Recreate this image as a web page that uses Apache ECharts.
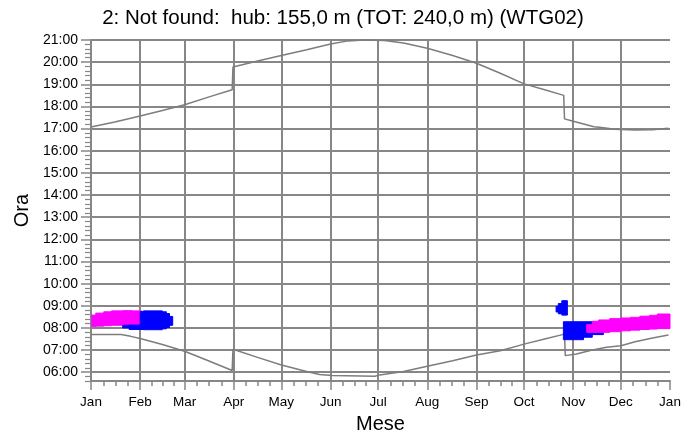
<!DOCTYPE html>
<html><head><meta charset="utf-8">
<script src="https://cdn.jsdelivr.net/npm/echarts@6/dist/echarts.min.js"></script>
<style>html,body{margin:0;padding:0;background:#fff}#c{width:699px;height:439px}</style>
</head><body><div id="c"></div>
<script>
// ---- Data ----
const monthLabels = ['Jan','Feb','Mar','Apr','May','Jun','Jul','Aug','Sep','Oct','Nov','Dec','Jan'];
const monthStarts = [0,31,59,90,120,151,181,212,243,273,304,334,365];
const hourTicks = [6,7,8,9,10,11,12,13,14,15,16,17,18,19,20,21];

// [day of year, hour]
const sunset = [[0,17.07],[15,17.3],[31,17.57],[45,17.82],[59,18.08],[74,18.42],[89,18.75],[89.5,19.78],[105,20.05],[120,20.3],[136,20.56],[151,20.82],[162,20.96],[172,21.0],[185,20.98],[197,20.86],[212,20.63],[228,20.3],[243,19.95],[258,19.5],[273,19.02],[286,18.75],[298,18.5],[298.5,17.44],[304,17.33],[310,17.22],[317,17.08],[322,17.05],[330,16.97],[343,16.94],[354,16.95],[364,17.02]];
const sunrise = [[0,7.7],[19,7.7],[25,7.62],[31,7.52],[45,7.25],[59,6.95],[74,6.52],[89,6.08],[89.5,7.04],[105,6.67],[120,6.33],[136,6.03],[144,5.9],[152,5.85],[179,5.82],[182,5.88],[197,6.03],[212,6.27],[228,6.52],[243,6.78],[258,6.97],[273,7.27],[286,7.5],[298.5,7.72],[299,6.75],[306,6.82],[316,7.0],[325,7.13],[334,7.2],[343,7.38],[354,7.55],[364,7.68]];

// [day start, day end, hour low, hour high]
const janMagenta = [[0.5,3,8.06,8.58],[3,8,8.08,8.67],[8,13,8.1,8.73],[13,20,8.12,8.77],[20,26,8.13,8.78],[26,32,8.14,8.77]];
const febBlue = [[20,24,8.0,8.12],[24,31,7.93,8.13],[31,33,7.93,8.74],[33,45,7.92,8.77],[45,47.5,7.96,8.73],[47.5,49.5,8.02,8.65],[49.5,51.5,8.12,8.52]];
const novBlue = [[293.2,294.6,8.72,8.98],[294.6,296.8,8.64,9.1],[296.8,300.3,8.58,9.23],[297.8,310.5,7.47,8.28],[310.5,316,7.58,8.28],[316,323,7.7,8.15]];
const decMagenta = [[312.5,316,7.8,8.15],[316,320,7.8,8.3],[320,327,7.8,8.36],[327,334,7.83,8.42],[334,340,7.87,8.45],[340,346,7.9,8.48],[346,352,7.93,8.53],[352,357,7.95,8.57],[357,365,7.97,8.63]];

// ---- Ticks derived from axis definitions ----
const minorX = [];
for (let m = 0; m < 12; m++) {
  const a = monthStarts[m], b = monthStarts[m + 1];
  for (let k = 1; k < 4; k++) minorX.push(a + k * (b - a) / 4);
}
const minorY = [];
for (let h = 5; h <= 20; h++) {
  for (let k = 1; k < 5; k++) {
    const v = +(h + k * 0.2).toFixed(2);
    if (v >= 5.6 && v <= 21) minorY.push(v);
  }
}

const GRID = '#878787';
const CURVE = '#7d7d7d';
const FONT = 'Liberation Sans, Arial, sans-serif';

function bandRender(color) {
  return function (params, api) {
    const p0 = api.coord([api.value(0), api.value(3)]);
    const p1 = api.coord([api.value(1), api.value(2)]);
    return {
      type: 'rect',
      shape: { x: p0[0], y: p0[1], width: p1[0] - p0[0], height: p1[1] - p0[1] },
      style: { fill: color, stroke: color, lineWidth: 1 }
    };
  };
}
function band(name, data, color, z) {
  return {
    name, type: 'custom', data, z,
    renderItem: bandRender(color),
    encode: { x: [0, 1], y: [2, 3] },
    silent: true
  };
}

const chart = echarts.init(document.getElementById('c'), null, { renderer: 'canvas' });
chart.setOption({
  animation: false,
  backgroundColor: '#fff',
  textStyle: { fontFamily: FONT },
  title: {
    text: '2: Not found:  hub: 155,0 m (TOT: 240,0 m) (WTG02)',
    left: 338, top: 3, textAlign: 'center',
    textStyle: { fontSize: 20.5, fontWeight: 'normal', color: '#000', fontFamily: FONT }
  },
  grid: { left: 91, right: 29, top: 40, bottom: 56, containLabel: false },
  xAxis: [{
    type: 'value', min: 0, max: 365,
    name: 'Mese', nameLocation: 'middle', nameGap: 31,
    nameTextStyle: { fontSize: 20, color: '#000', fontFamily: FONT },
    axisLine: { show: true, onZero: false, lineStyle: { color: GRID, width: 2 } },
    axisTick: { show: true, customValues: monthStarts, length: 9, lineStyle: { color: GRID, width: 1.5 } },
    axisLabel: {
      customValues: monthStarts, margin: 14, fontSize: 13.5, color: '#000', fontFamily: FONT,
      formatter: v => monthLabels[monthStarts.indexOf(v)]
    },
    splitLine: { show: true, showMinLine: false, showMaxLine: false, lineStyle: { color: GRID, width: 2 } }
  }, {
    type: 'value', min: 0, max: 365, position: 'bottom',
    axisLine: { show: false },
    axisTick: { show: true, customValues: minorX, length: 5, lineStyle: { color: GRID, width: 1.5 } },
    axisLabel: { show: false },
    splitLine: { show: false }
  }],
  yAxis: [{
    type: 'value', min: 5.6, max: 21,
    name: 'Ora', nameLocation: 'middle', nameGap: 58, nameRotate: 90,
    nameTextStyle: { fontSize: 20, color: '#000', fontFamily: FONT },
    axisLine: { show: true, onZero: false, lineStyle: { color: GRID, width: 2 } },
    axisTick: { show: true, customValues: hourTicks, length: 10, lineStyle: { color: GRID, width: 1.5 } },
    axisLabel: {
      customValues: hourTicks, margin: 13, fontSize: 14, color: '#000', fontFamily: FONT,
      formatter: v => (v < 10 ? '0' : '') + v + ':00'
    },
    splitLine: { show: true, lineStyle: { color: GRID, width: 2 } }
  }, {
    type: 'value', min: 5.6, max: 21, position: 'left',
    axisLine: { show: false },
    axisTick: { show: true, customValues: minorY, length: 6, lineStyle: { color: GRID, width: 1.2 } },
    axisLabel: { show: false },
    splitLine: { show: false }
  }],
  series: [
    band('janMagenta', janMagenta, '#ff00ff', 3),
    band('febBlue', febBlue, '#0000ff', 4),
    band('novBlue', novBlue, '#0000ff', 3),
    band('decMagenta', decMagenta, '#ff00ff', 4),
    { name: 'sunset', type: 'line', data: sunset, showSymbol: false, z: 2, silent: true,
      lineStyle: { color: CURVE, width: 1.5 } },
    { name: 'sunrise', type: 'line', data: sunrise, showSymbol: false, z: 2, silent: true,
      lineStyle: { color: CURVE, width: 1.5 } }
  ]
});
</script>
</body></html>
